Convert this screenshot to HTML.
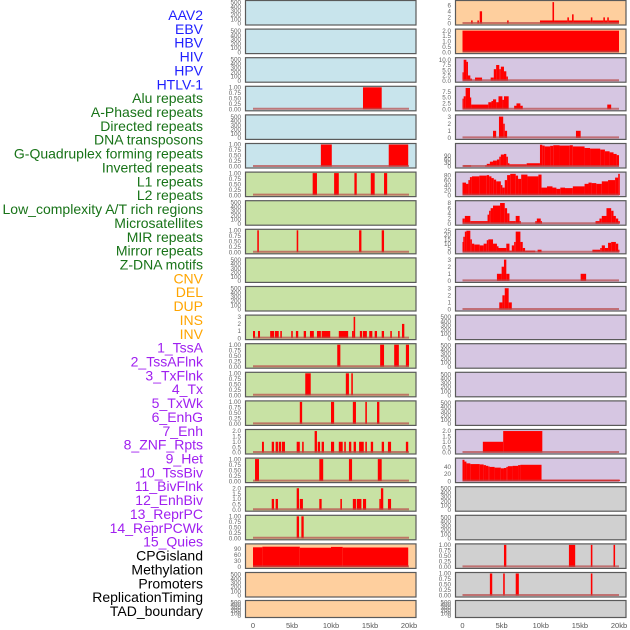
<!DOCTYPE html>
<html><head><meta charset="utf-8">
<style>
html,body{margin:0;padding:0;background:#fff;}
svg{display:block;font-family:"Liberation Sans",sans-serif;}
</style></head>
<body>
<svg id="chart" width="630" height="630" viewBox="0 0 630 630" xmlns="http://www.w3.org/2000/svg"></svg>
<script>
// ---- labels ----
const trackLabels = ["AAV2","EBV","HBV","HIV","HPV","HTLV-1","Alu repeats","A-Phased repeats","Directed repeats","DNA transposons","G-Quadruplex forming repeats","Inverted repeats","L1 repeats","L2 repeats","Low_complexity A/T rich regions","Microsatellites","MIR repeats","Mirror repeats","Z-DNA motifs","CNV","DEL","DUP","INS","INV","1_TssA","2_TssAFlnk","3_TxFlnk","4_Tx","5_TxWk","6_EnhG","7_Enh","8_ZNF_Rpts","9_Het","10_TssBiv","11_BivFlnk","12_EnhBiv","13_ReprPC","14_ReprPCWk","15_Quies","CPGisland","Methylation","Promoters","ReplicationTiming","TAD_boundary"];
const labelColors = ["#1f1fff","#1f1fff","#1f1fff","#1f1fff","#1f1fff","#1f1fff","#187318","#187318","#187318","#187318","#187318","#187318","#187318","#187318","#187318","#187318","#187318","#187318","#187318","#ffa500","#ffa500","#ffa500","#ffa500","#ffa500","#a020f0","#a020f0","#a020f0","#a020f0","#a020f0","#a020f0","#a020f0","#a020f0","#a020f0","#a020f0","#a020f0","#a020f0","#a020f0","#a020f0","#a020f0","#000","#000","#000","#000","#000"];
const xTickValues = [0,5,10,15,20];
const xTickLabels = ["0","5kb","10kb","15kb","20kb"];
// ---- tick sets ----
const ticksEmpty = [0,100,200,300,400,500];
const ticksUnit = [0,0.25,0.5,0.75,1];
const ticksUnitLbl = ["0.00","0.25","0.50","0.75","1.00"];
const ticksTwo = [0,0.5,1,1.5,2];
const ticksTwoLbl = ["0.0","0.5","1.0","1.5","2.0"];
const ticksThree = [0,1,2,3];
// ---- series: [startKb, endKb, value] ----
const aluBars = [[14.1,16.5,1]];
const gquadLeft = [[8.7,10.1,1],[17.4,19.9,1]];
const l1Bars = [[7.65,8.2,1],[10.4,11.0,1],[13.0,13.3,1],[15.1,15.6,1],[16.8,17.2,1]];
const mirBars = [[0.55,0.75,1],[5.6,5.8,1],[13.6,13.9,1],[16.5,16.8,1]];
const insBars = [[0,0.26,1],[0.64,0.9,1],[2.2,2.7,1],[2.8,3.3,1],[3.5,3.7,1],[4.9,5.1,1],[5.5,5.8,1],[6.5,6.8,1],[7.3,7.8,1],[8.2,8.7,1],[8.8,9.9,1],[11.0,12.2,1],[12.7,12.9,1],[12.9,13.1,3],[13.7,14.0,1],[14.1,14.6,1],[14.9,15.3,1],[15.6,15.9,1],[16.5,16.8,1],[17.6,17.8,1],[18.6,18.8,1],[19.1,19.4,2]];
const tssA = [[10.8,11.2,1],[16.3,16.8,1],[18.1,18.7,1],[19.6,20.0,1]];
const tssAFlnk = [[6.7,7.4,1],[11.9,12.3,1],[12.6,12.8,1]];
const txFlnk = [[6.0,6.3,1],[10.0,10.4,1],[12.8,13.2,1],[14.4,14.6,1],[15.9,16.2,1]];
const znfBars = [[1.15,1.4,1],[2.4,2.7,1],[2.9,3.2,1],[3.3,3.6,1],[3.7,4.1,1],[5.6,6.0,1],[6.3,6.5,1],[7.9,8.2,2],[8.3,8.6,1],[8.8,9.1,1],[10.0,10.4,1],[11.0,11.5,1],[11.7,11.9,1],[12.3,12.6,1],[12.9,13.2,1],[13.6,14.2,1],[14.4,14.6,1],[15.1,15.4,1],[16.5,16.8,1],[17.3,17.7,1],[19.6,19.9,1]];
const hetBars = [[0.26,0.77,1],[8.5,9.0,1],[12.3,12.7,1],[16.0,16.5,1]];
const tssBiv = [[2.4,2.7,1],[2.9,3.2,1],[5.6,5.9,2],[6.0,6.4,1],[8.5,8.8,1],[11.2,11.4,1],[12.8,13.2,1],[13.3,13.9,1],[14.1,14.5,1],[16.2,16.4,1],[16.4,16.7,2],[17.3,17.7,1]];
const bivFlnk = [[5.6,5.9,1],[6.2,6.5,1]];
const cpgLeft = [[0,1.2,98],[1.2,6,101],[6,10,96],[10,11.5,100],[11.5,19.9,97]];
const aav2Right = [[1.1,1.3,1],[1.9,2.1,1],[2.2,2.5,4],[5.7,5.9,1],[9.9,11.5,1],[11.5,11.7,7],[11.7,13.4,1],[13.4,13.6,2],[13.6,14.0,1],[14.0,14.2,3],[14.2,16.4,1],[16.4,16.6,2],[16.6,18.0,1],[18.0,18.2,2],[18.2,18.5,1],[18.5,18.7,2],[18.7,20,1]];
const ebvRight = [[0,20,2]];
const hbvRight = [[0,0.15,4],[0.15,0.5,10],[0.5,0.7,9],[0.7,1.0,2.5],[1.0,1.2,1],[1.6,2.5,1.5],[3.6,4.0,1.5],[4.0,4.3,5.5],[4.3,4.7,7.5],[4.7,4.9,5.5],[4.9,5.3,6.7],[5.3,5.6,4.5],[5.6,5.8,2]];
const hivRight = [[0,0.15,4.5],[0.15,0.4,5.5],[0.4,0.96,9],[0.96,1.1,5],[1.1,3.3,2],[3.3,3.7,3],[3.7,3.9,3.5],[3.9,4.3,4.2],[4.3,4.6,3],[4.6,5.1,5.5],[5.1,5.3,4],[5.3,5.9,5.5],[6.6,6.9,1.5],[6.9,7.4,2.5],[7.4,7.7,1.5],[18.5,19.0,2]];
const hpvRight = [[3.9,4.3,1],[4.66,5.2,3],[5.2,5.4,2],[5.4,5.7,1],[14.5,15.1,1]];
const gquadRight = [[0.1,1.1,9],[2.9,3.1,9],[3.1,3.5,22],[3.5,3.9,40],[3.9,4.4,49],[4.4,4.7,58],[4.7,4.9,81],[4.9,5.3,99],[5.3,5.6,104],[5.6,5.8,81],[5.8,6.0,27],[6.0,8.2,18],[8.2,9.9,27],[9.9,10.2,180],[10.2,10.5,173],[10.5,11.2,166],[11.2,11.6,171],[11.6,12.4,176],[12.4,13.7,173],[13.7,14.1,176],[14.1,15.6,166],[15.6,16.3,153],[16.3,17.6,148],[17.6,18.2,140],[18.2,18.8,126],[18.8,19.3,117],[19.3,19.7,104],[19.7,20.0,94]];
const invertedRight = [[0,0.45,50],[0.45,0.75,45],[0.75,0.95,60],[0.95,1.2,72],[1.2,2.15,75],[2.15,3.1,78],[3.1,3.4,80],[3.4,3.7,75],[3.7,4.0,68],[4.0,4.3,62],[4.3,4.9,55],[4.9,5.1,40],[5.1,5.4,30],[5.4,5.7,60],[5.7,6.1,80],[6.1,6.8,85],[6.8,7.1,78],[7.1,7.5,65],[7.5,8.3,82],[8.3,9.7,75],[9.7,10.1,82],[10.1,10.8,30],[10.8,11.5,35],[11.5,12.0,30],[12.0,12.5,25],[12.5,13.1,30],[13.1,14.1,28],[14.1,15.6,35],[15.6,16.1,45],[16.1,16.5,50],[16.5,17.1,48],[17.1,17.8,45],[17.8,18.6,55],[18.6,19.5,60],[19.5,19.9,70],[19.9,20.1,85]];
const l1Right = [[0,0.3,2],[0.3,1.0,3],[1.0,3.2,1],[3.2,3.4,3.5],[3.4,3.6,5],[3.6,3.9,6],[3.9,4.8,7],[4.8,5.4,8],[5.4,5.7,6],[5.7,6.0,4],[6.0,6.8,1],[6.8,7.3,3],[7.3,7.4,1],[9.3,9.5,1],[9.5,10.0,2],[10.0,10.1,1],[17.0,17.5,1],[17.5,17.8,2],[17.8,18.4,3],[18.4,19.0,6],[19.0,19.3,5],[19.3,19.6,3],[19.6,19.9,2],[19.9,20.1,1]];
const l2Right = [[0,0.1,12],[0.1,0.3,18],[0.3,0.5,24],[0.5,1.0,25],[1.0,1.2,15],[1.2,1.5,10],[1.5,2.2,9],[2.2,2.7,8],[2.7,3.1,10],[3.1,3.3,14],[3.3,3.9,15],[3.9,4.4,10],[4.4,4.6,7],[4.6,5.6,5],[5.6,6.0,10],[6.0,6.3,2],[6.3,6.6,8],[6.6,6.8,12],[6.8,7.4,24],[7.4,7.7,12],[7.7,8.0,5],[8.0,9.3,2],[9.6,10.1,3],[16.6,17.6,3],[17.6,17.8,5],[17.8,18.2,8],[18.2,18.6,5],[18.6,19.0,11],[19.0,19.6,12],[19.6,19.9,10],[19.9,20.0,3]];
const microRight = [[4.4,5.0,1],[5.0,5.3,2],[5.3,5.6,3],[5.6,6.0,1],[15.1,15.8,1]];
const mirRight = [[4.7,5.1,1],[5.1,5.4,2],[5.4,5.9,3],[5.9,6.3,1]];
const znfRight = [[2.6,5.2,1],[5.2,10.2,2]];
const hetRight = [[0,0.25,60],[0.25,0.5,55],[0.5,1.0,50],[1.0,2.2,48],[2.2,2.7,47],[2.7,3.0,45],[3.0,3.3,43],[3.3,3.5,41],[3.5,4.1,40],[4.1,4.9,38],[4.9,5.3,36],[5.3,5.6,37],[5.6,5.8,40],[5.8,6.4,42],[6.4,7.1,43],[7.1,7.4,45],[7.4,10.1,46],[10.1,20.1,4]];
const quiesRight = [[5.3,5.6,1],[13.6,14.4,1],[16.4,16.6,1],[19.3,19.5,1]];
const methRight = [[3.5,3.8,1],[5.2,5.4,1],[6.8,7.2,1],[16.4,16.6,1]];

const BLUE="#c8e4ec", GREEN="#c8e2a4", ORANGE="#fecf9e", PURPLE="#d6c6e2", GRAY="#d0d0d0";
const E={ymax:520,ticks:ticksEmpty,lbl:null,data:null};
const U=d=>({ymax:1.0,ticks:ticksUnit,lbl:ticksUnitLbl,data:d});
const T2=d=>({ymax:2.05,ticks:ticksTwo,lbl:ticksTwoLbl,data:d});
const T3=d=>({ymax:3.1,ticks:ticksThree,lbl:null,data:d});
const leftPanels = [
 [BLUE,E],[BLUE,E],[BLUE,E],[BLUE,U(aluBars)],[BLUE,E],[BLUE,U(gquadLeft)],
 [GREEN,U(l1Bars)],[GREEN,E],[GREEN,U(mirBars)],[GREEN,E],[GREEN,E],[GREEN,T3(insBars)],
 [GREEN,U(tssA)],[GREEN,U(tssAFlnk)],[GREEN,U(txFlnk)],[GREEN,T2(znfBars)],[GREEN,U(hetBars)],[GREEN,T2(tssBiv)],[GREEN,U(bivFlnk)],
 [ORANGE,{ymax:110,ticks:[0,30,60,90],lbl:null,data:cpgLeft}],[ORANGE,E],[ORANGE,E]];
const rightPanels = [
 [ORANGE,{ymax:7.2,ticks:[0,2,4,6],lbl:null,data:aav2Right}],[ORANGE,T2(ebvRight)],
 [PURPLE,{ymax:10.5,ticks:[0,2.5,5,7.5,10],lbl:["0.0","2.5","5.0","7.5","10.0"],data:hbvRight}],
 [PURPLE,{ymax:9.3,ticks:[0,2.5,5,7.5],lbl:["0.0","2.5","5.0","7.5"],data:hivRight}],
 [PURPLE,T3(hpvRight)],
 [PURPLE,{ymax:182,ticks:[0,30,60,90],lbl:null,data:gquadRight}],
 [PURPLE,{ymax:88,ticks:[0,20,40,60,80],lbl:null,data:invertedRight}],
 [PURPLE,{ymax:8.5,ticks:[0,2,4,6,8],lbl:null,data:l1Right}],
 [PURPLE,{ymax:25.5,ticks:[0,5,10,15,20,25],lbl:null,data:l2Right}],
 [PURPLE,T3(microRight)],[PURPLE,T3(mirRight)],
 [PURPLE,E],[PURPLE,E],[PURPLE,E],[PURPLE,E],[PURPLE,T2(znfRight)],
 [PURPLE,{ymax:62,ticks:[0,20,40],lbl:null,data:hetRight}],
 [GRAY,E],[GRAY,E],[GRAY,U(quiesRight)],[GRAY,U(methRight)],[GRAY,E]];

const NS="http://www.w3.org/2000/svg";
const svg=document.getElementById('chart');
function mk(tag,attrs,parent){const e=document.createElementNS(NS,tag);for(const k in attrs)e.setAttribute(k,attrs[k]);(parent||svg).appendChild(e);return e;}

trackLabels.forEach((t,i)=>{
  const el=mk('text',{x:203,y:15+i*13.86+5,'text-anchor':'end','font-size':14,fill:labelColors[i]});
  el.textContent=t;
  
  
});

function drawColumn(panels,px0,px1,x0,x20,tickX,side){
  const xs=kb=>x0+(kb/20)*(x20-x0);
  panels.forEach((p,i)=>{
    const top=i<21? i*28.6+0.5 : 600.5;
    const h=i<21?24.5:17;
    const g=mk('g',{});
    
    
    mk('rect',{x:px0,y:top,width:px1-px0,height:h,fill:p[0],stroke:'#5a5a5a','stroke-width':1.2},g);
    const cfg=p[1];
    const yb=top+h-1.5, yt=top+1;
    const ys=v=>yb-(v/cfg.ymax)*(yb-yt);
    cfg.ticks.forEach((v,k)=>{
      const tl=mk('text',{x:tickX,y:ys(v)+2.2,'text-anchor':'end','font-size':6.3,fill:'#666'},g);
      tl.textContent=cfg.lbl?cfg.lbl[k]:String(v);
      
      
    });
    if(cfg.data){
      cfg.data.forEach(s=>{
        const r=mk('rect',{x:xs(s[0]),y:ys(s[2]),width:Math.max(1.2,xs(s[1])-xs(s[0])),height:yb-ys(s[2]),fill:'#ff0000'},g);
        
        
      });
      const bl=mk('line',{x1:xs(0),x2:xs(20),y1:yb-0.5,y2:yb-0.5,stroke:'#b84848','stroke-opacity':0.7,'stroke-width':2},g);
      
      
    }
  });
  xTickValues.forEach((v,k)=>{
    const t=mk('text',{x:xs(v),y:628,'text-anchor':'middle','font-size':7.5,fill:'#555'});
    t.textContent=xTickLabels[k];
    
    
  });
}
drawColumn(leftPanels,245.5,416,253,409,241,'left');
drawColumn(rightPanels,455.5,626,462.5,619,451,'right');
</script>
</body></html>
